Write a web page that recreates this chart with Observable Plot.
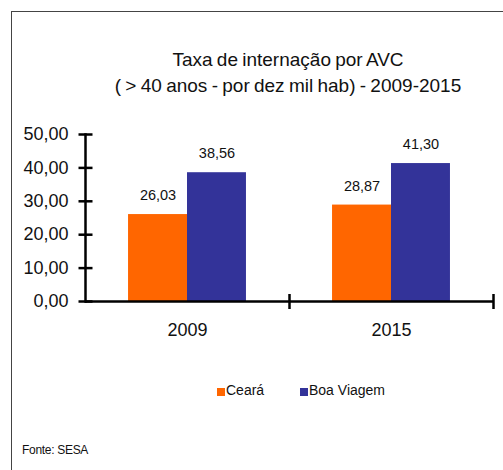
<!DOCTYPE html>
<html>
<head>
<meta charset="utf-8">
<script src="https://cdn.jsdelivr.net/npm/d3@7"></script>
<script src="https://cdn.jsdelivr.net/npm/@observablehq/plot@0.6"></script>
<style>
  html, body { margin: 0; padding: 0; background: #fff; }
  #wrap { position: relative; width: 503px; height: 470px; overflow: hidden; font-family: "Liberation Sans", Arial, sans-serif; color: #111; }
  #box { position: absolute; left: 11px; top: 11px; width: 600px; height: 600px; border-top: 1.5px solid #444; border-left: 1.5px solid #444; box-sizing: border-box; }
  #title { position: absolute; left: 88px; width: 400px; top: 47px; text-align: center; font-size: 19px; line-height: 26px; word-spacing: -1px; }
  #legend { position: absolute; top: 383px; left: 0; font-size: 14px; line-height: 14px; }
  .sw { position: absolute; width: 8px; height: 8px; top: 5px; }
  .lt { position: absolute; top: 0; white-space: nowrap; }
  #source { position: absolute; left: 22px; top: 444px; font-size: 12px; line-height: 12px; letter-spacing: -0.3px; }
  #chart { position: absolute; left: 0; top: 0; }
</style>
</head>
<body>
<div id="wrap">
  <div id="box"></div>
  <div id="chart"></div>
  <div id="title"></div>
  <div id="legend"></div>
  <div id="source"></div>
</div>
<script>
// ---- data ----
const years = ["2009", "2015"];
const series = ["Ceará", "Boa Viagem"];
const ceara = [26.03, 28.87];
const boaViagem = [38.56, 41.30];
const colors = ["#FF6600", "#333399"];
const yTicks = [0, 10, 20, 30, 40, 50];
const yTickLabels = ["0,00", "10,00", "20,00", "30,00", "40,00", "50,00"];
const titleLines = ["Taxa de internação por AVC", "( > 40 anos - por dez mil hab) - 2009-2015"];
const sourceText = "Fonte: SESA";

const rows = [];
years.forEach((y, i) => {
  rows.push({year: y, series: series[0], value: ceara[i]});
  rows.push({year: y, series: series[1], value: boaViagem[i]});
});
const fmt = v => v.toFixed(2).replace(".", ",");

const vline = {draw(ctx, size) { const r = Math.sqrt(size / Math.PI); ctx.moveTo(0, -r); ctx.lineTo(0, r); }};
const hline = {draw(ctx, size) { const r = Math.sqrt(size / Math.PI); ctx.moveTo(-r, 0); ctx.lineTo(r, 0); }};

const chart = Plot.plot({
  width: 503,
  height: 470,
  marginLeft: 85,
  marginRight: 10,
  marginTop: 134,
  marginBottom: 169,
  style: {fontFamily: "'Liberation Sans', Arial, sans-serif", color: "#111", background: "transparent"},
  fx: {domain: years, padding: 0, axis: null},
  x: {domain: series, paddingInner: 0, paddingOuter: 0.73, axis: null, round: false},
  y: {domain: [0, 50], axis: null},
  color: {domain: series, range: colors},
  marks: [
    Plot.barY(rows, {fx: "year", x: "series", y: "value", fill: "series"}),
    Plot.text(rows, {fx: "year", x: "series", y: "value", text: d => fmt(d.value), dy: -19, fontSize: 14.5, fill: "#111"}),
    Plot.ruleY([0], {stroke: "#000", strokeWidth: 2.5}),
    Plot.frame({anchor: "left", stroke: "#000", strokeWidth: 2.5, facetAnchor: "left"}),
    Plot.dot(yTicks, {y: d => d, frameAnchor: "left", symbol: hline, r: 7, stroke: "#000", strokeWidth: 2.5, fill: "none", facetAnchor: "left"}),
    Plot.dot([0], {frameAnchor: "bottom-right", symbol: vline, r: 7.5, stroke: "#000", strokeWidth: 2.5, fill: "none"}),
    Plot.axisY({ticks: yTicks, tickSize: 0, tickPadding: 17, tickFormat: d => yTickLabels[yTicks.indexOf(d)], fontSize: 18, label: null, fill: "#111"}),
    Plot.axisFx({anchor: "bottom", tickSize: 0, tickPadding: 22, fontSize: 18, label: null, fill: "#111"})
  ]
});
document.getElementById("chart").appendChild(chart);

document.getElementById("title").innerHTML = titleLines.join("<br>");
document.getElementById("source").textContent = sourceText;

const legend = document.getElementById("legend");
const legendPos = [[217, 226], [300, 309]];
series.forEach((s, i) => {
  const sw = document.createElement("div");
  sw.className = "sw"; sw.style.left = legendPos[i][0] + "px"; sw.style.background = colors[i];
  const lt = document.createElement("div");
  lt.className = "lt"; lt.style.left = legendPos[i][1] + "px"; lt.textContent = s;
  legend.appendChild(sw); legend.appendChild(lt);
});
</script>
</body>
</html>
